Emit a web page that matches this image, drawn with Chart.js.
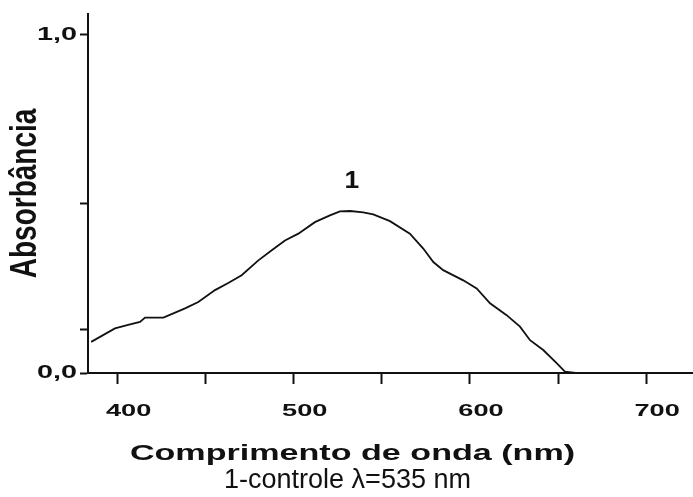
<!DOCTYPE html>
<html>
<head>
<meta charset="utf-8">
<script src="https://cdn.jsdelivr.net/npm/chart.js@4/dist/chart.umd.min.js"></script>
<style>
  html, body { margin: 0; padding: 0; background: #ffffff; }
  #wrap { width: 693px; height: 497px; position: relative; }
</style>
</head>
<body>
<div id="wrap"><canvas id="c"></canvas></div>
<script>
// ---- data ----
const wavelengths = [385, 398.5, 406, 412.7, 415.6, 426, 438.3, 445.8, 455.3, 462.8, 470.4, 479.9, 487.5, 495, 502.6, 512, 520.5, 526.2, 532, 539.4, 545.1, 554.6, 565.9, 573.5, 579.2, 584.8, 596.2, 603.8, 611.4, 620.8, 628.4, 634.1, 641.6, 649.2, 653.9, 660, 700, 726];
const absorbance  = [0.092, 0.132, 0.142, 0.151, 0.164, 0.164, 0.191, 0.210, 0.245, 0.266, 0.289, 0.333, 0.363, 0.392, 0.412, 0.446, 0.466, 0.478, 0.479, 0.475, 0.469, 0.449, 0.412, 0.368, 0.328, 0.304, 0.274, 0.250, 0.206, 0.171, 0.137, 0.097, 0.068, 0.029, 0.004, 0, 0, 0];
const xTickValues = [400, 450, 500, 550, 600, 650, 700];
const xLabelValues = [400, 500, 600, 700];
const yTickValues = [0, 0.13, 0.5, 1.0];
const yTickLabels = { 0: '0,0', 1: '1,0' };
const peakLabel = { text: '1', x: 533, y: 0.566 };
const xTitle = 'Comprimento de onda (nm)';
const yTitle = 'Absorbância';
const captionText = '1-controle \u03BB=535 nm';

const INK = '#111111';
const SANS = '"Liberation Sans", Arial, sans-serif';

// draw a text-drawing method with its glyphs stretched horizontally about each text anchor
function stretched(obj, name, sx, dx) {
  if (!obj || typeof obj[name] !== 'function' || obj[name].__stretched) return;
  const orig = obj[name];
  const shift = dx || 0;
  const fn = function (...args) {
    const ctx = this.ctx || (this.chart && this.chart.ctx);
    const origTranslate = ctx.translate;
    ctx.translate = function (x, y) { origTranslate.call(this, x + shift, y); this.scale(sx, 1); };
    try { return orig.apply(this, args); } finally { ctx.translate = origTranslate; }
  };
  fn.__stretched = true;
  obj[name] = fn;
}

const wideText = {
  id: 'wideText',
  beforeDraw(chart) {
    stretched(chart.scales.x, 'drawLabels', 1.6);
    stretched(chart.scales.y, 'drawLabels', 1.6);
    stretched(chart.scales.y, 'drawTitle', 1.3);
    const tb = chart.boxes.find(b => b.options && b.options.text === xTitle);
    stretched(tb, 'draw', 1.55);
    const sb = chart.boxes.find(b => b.options && b.options.text === captionText);
    stretched(sb, 'draw', 1.0, -5);
  }
};

const peakText = {
  id: 'peakText',
  afterDatasetsDraw(chart) {
    const ctx = chart.ctx;
    const px = chart.scales.x.getPixelForValue(peakLabel.x);
    const py = chart.scales.y.getPixelForValue(peakLabel.y);
    ctx.save();
    ctx.translate(px, py);
    ctx.scale(1.15, 1);
    ctx.font = 'bold 23px ' + SANS;
    ctx.fillStyle = INK;
    ctx.textAlign = 'center';
    ctx.textBaseline = 'middle';
    ctx.fillText(peakLabel.text, 0, 0);
    ctx.restore();
  }
};

const points = wavelengths.map((w, i) => ({ x: w, y: absorbance[i] }));

new Chart(document.getElementById('c'), {
  type: 'line',
  data: {
    datasets: [{
      data: points,
      borderColor: INK,
      borderWidth: 1.8,
      pointRadius: 0,
      tension: 0,
      fill: false
    }]
  },
  options: {
    responsive: true,
    maintainAspectRatio: false,
    animation: false,
    layout: { padding: { top: 13, left: 12, right: 0, bottom: 0 } },
    plugins: {
      legend: { display: false },
      tooltip: { enabled: false },
      title: {
        display: true,
        text: xTitle,
        position: 'bottom',
        weight: 1000,
        color: INK,
        font: { family: SANS, size: 22, weight: 'bold', lineHeight: 1 },
        padding: { top: 0, bottom: 2 }
      },
      subtitle: {
        display: true,
        text: captionText,
        position: 'bottom',
        weight: 1500,
        color: INK,
        font: { family: SANS, size: 27, weight: 'normal', lineHeight: 1 },
        padding: { top: 0, bottom: 3 }
      }
    },
    scales: {
      x: {
        type: 'linear',
        min: 383.2,
        max: 726.6,
        afterBuildTicks: s => { s.ticks = xTickValues.map(v => ({ value: v })); },
        afterFit: s => { s.height = 70; },
        ticks: {
          autoSkip: false,
          maxRotation: 0,
          padding: 17,
          labelOffset: 11,
          color: INK,
          font: { family: SANS, size: 17, weight: 'bold' },
          callback: v => xLabelValues.includes(v) ? String(v) : ''
        },
        grid: {
          display: true,
          drawOnChartArea: false,
          drawTicks: true,
          tickLength: 11,
          tickWidth: 2,
          tickColor: INK
        },
        border: { display: true, color: INK, width: 2 }
      },
      y: {
        type: 'linear',
        min: 0,
        max: 1.062,
        afterBuildTicks: s => { s.ticks = yTickValues.map(v => ({ value: v })); },
        afterFit: s => { s.width = 76; },
        ticks: {
          autoSkip: false,
          padding: 3,
          color: INK,
          font: { family: SANS, size: 18, weight: 'bold' },
          callback: v => (yTickLabels[v] !== undefined ? yTickLabels[v] : '')
        },
        grid: {
          display: true,
          drawOnChartArea: false,
          drawTicks: true,
          tickLength: 8,
          tickWidth: 2,
          tickColor: INK
        },
        border: { display: true, color: INK, width: 2 },
        title: {
          display: true,
          text: yTitle,
          color: INK,
          font: { family: SANS, size: 28, weight: 'bold', lineHeight: 1 },
          padding: { top: 0, bottom: 0 }
        }
      }
    }
  },
  plugins: [wideText, peakText]
});
</script>
</body>
</html>
